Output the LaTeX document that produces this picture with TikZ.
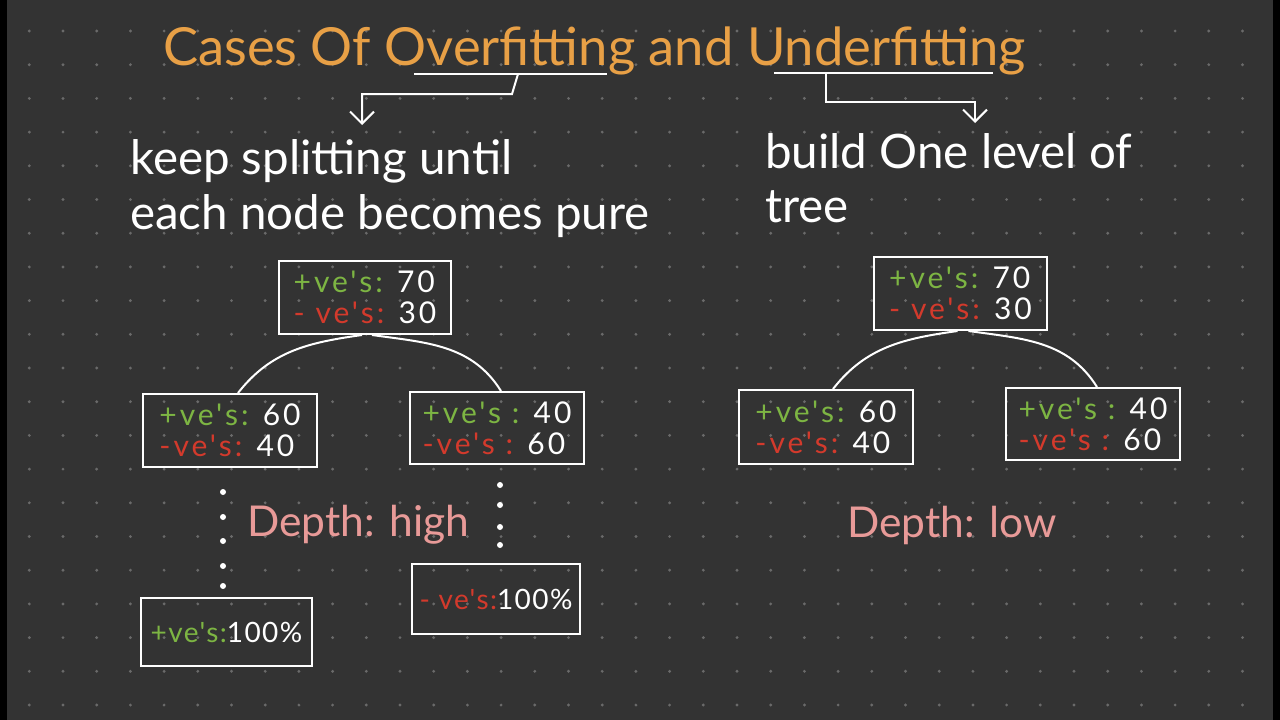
\documentclass[tikz,border=0pt]{standalone}
\usepackage{fontspec}
\setmainfont{Lato}
\newfontfamily\boxfont[LetterSpace=10]{Lato}
\newfontfamily\purefont[LetterSpace=5]{Lato}
\usetikzlibrary{arrows.meta}
\definecolor{bg}{HTML}{333333}
\definecolor{gdot}{HTML}{6A6A6A}
\definecolor{tgreen}{HTML}{7DB543}
\definecolor{tred}{HTML}{D33A2C}
\definecolor{torange}{HTML}{E8A046}
\definecolor{tpink}{HTML}{E89A98}
\newcommand\posv[1]{\textcolor{tgreen}{#1}}
\newcommand\negv[1]{\textcolor{tred}{#1}}
\tikzset{
  box/.style={draw=white, line width=2pt, align=left, inner sep=0pt, text=white,
    font=\boxfont\fontsize{30}{31}\selectfont},
  purebox/.style={box, font=\purefont\fontsize{28}{31}\selectfont},
  wline/.style={draw=white, line width=2pt},
  arr/.style={wline, -{Straight Barb[length=12pt,width=24pt,line width=2pt]}},
  edge/.style={draw=white, line width=2pt},
  handtext/.style={anchor=base west, inner sep=0pt, text=white, font=\fontsize{47.5}{56}\selectfont},
  depthtext/.style={anchor=base west, inner sep=0pt, text=tpink, font=\fontsize{42.5}{48}\selectfont},
  vdot/.style={fill=white}
}
\begin{document}
\begin{tikzpicture}[x=1pt,y=1pt]
\useasboundingbox (0,0) rectangle (1280,-720);
\fill[bg] (0,0) rectangle (1280,-720);
\foreach \i in {0,...,36}{
  \foreach \j in {0,...,20}{
    \fill[gdot] (29.3+33.7*\i,-31-33.7*\j) circle (1.6pt);
  }
}
\fill[black] (0,0) rectangle (7,-720);
\fill[black] (1273,0) rectangle (1280,-720);

% title
\node[anchor=base west, inner sep=0pt, text=torange, font=\fontsize{52.5}{60}\selectfont] (title) at (163,-65)
  {Cases Of Overfitting and Underfitting};

% underlines and arrows
\coordinate (ua1) at (414,-74); \coordinate (ub1) at (607,-74);
\coordinate (us1) at (518,-74); \coordinate (uk1) at (512,-94);
\coordinate (uh1) at (362,-94); \coordinate (ut1) at (362,-125);
\draw[wline] (ua1) -- (ub1);
\draw[arr] (us1) -- (uk1) -- (uh1) -- (ut1);

\coordinate (ua2) at (774,-73); \coordinate (ub2) at (993,-73);
\coordinate (us2) at (826,-73); \coordinate (uk2) at (826,-102);
\coordinate (uh2) at (975,-102); \coordinate (ut2) at (975,-123);
\draw[wline] (ua2) -- (ub2);
\draw[arr] (us2) -- (uk2) -- (uh2) -- (ut2);

% descriptions
\node[handtext] (d1a) at (130,-174) {keep splitting until};
\node[handtext] (d1b) at (130,-229) {each node becomes pure};
\node[handtext] (d2a) at (765,-168) {build One level of};
\node[handtext] (d2b) at (765,-222) {tree};

% left tree
\node[box, minimum width=172pt, minimum height=73pt] (lroot) at (365,-297.5)
  {\posv{+ve's:} 70\\\negv{- ve's:} 30};
\node[box, minimum width=174pt, minimum height=73pt] (lleft) at (230,-430.5)
  {\posv{+ve's:} 60\\\negv{-ve's:} 40};
\node[box, minimum width=174pt, minimum height=72pt] (lright) at (497,-428)
  {\posv{+ve's :} 40\\\negv{-ve's :} 60};
\draw[edge] ([xshift=8pt]lleft.north) to[out=52,in=188] ([xshift=-3pt]lroot.south);
\draw[edge] ([xshift=7pt]lroot.south) to[out=-8,in=122] ([xshift=4pt]lright.north);

\foreach \y in {492,517,541,566,586}{\fill[vdot] (223,-\y) circle (3pt);}
\foreach \y in {485,505,527,545}{\fill[vdot] (500,-\y) circle (3pt);}

\node[depthtext] (dh) at (247,-536) {Depth: high};

\node[purebox, minimum width=171pt, minimum height=68pt] (lpure) at (226.5,-632)
  {\posv{+ve's:}100\%};
\node[purebox, minimum width=168pt, minimum height=70pt] (rpure) at (496,-599)
  {\negv{- ve's:}100\%};

% right tree
\node[box, minimum width=173pt, minimum height=73pt] (rroot) at (960.5,-293.5)
  {\posv{+ve's:} 70\\\negv{- ve's:} 30};
\node[box, minimum width=174pt, minimum height=74pt] (rleft) at (826,-427)
  {\posv{+ve's:} 60\\\negv{-ve's:} 40};
\node[box, minimum width=174pt, minimum height=72pt] (rright) at (1093,-424)
  {\posv{+ve's :} 40\\\negv{-ve's :} 60};
\draw[edge] ([xshift=7pt]rleft.north) to[out=52,in=188] ([xshift=-3pt]rroot.south);
\draw[edge] ([xshift=8pt]rroot.south) to[out=-8,in=122] ([xshift=4pt]rright.north);

\node[depthtext] (dl) at (847,-537) {Depth: low};
\end{tikzpicture}
\end{document}
